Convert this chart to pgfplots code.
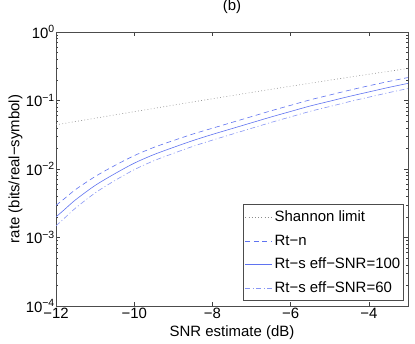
\documentclass[border=0pt]{standalone}
\usepackage{pgfplots}
\pgfplotsset{compat=1.18}
\usepackage{fontspec}
\setmainfont{Liberation Sans}

\definecolor{lineblue}{RGB}{95,115,240}
\definecolor{dotgray}{RGB}{140,140,140}

\begin{document}
\begin{tikzpicture}[font=\fontsize{15}{18}\selectfont]
% fixed page: axis box at (0,0)-(352bp,274bp), margins as in the reference
\useasboundingbox (-56bp,-38bp) rectangle (359bp,306bp);
\begin{axis}[
    at={(0,0)}, anchor=south west,
    width=352bp, height=274bp, scale only axis,
    ymode=log,
    xmin=-12, xmax=-3,
    ymin=1e-4, ymax=1,
    xtick={-12,-10,-8,-6,-4},
    xticklabels={−12,−10,−8,−6,−4},
    ytick={1e-4,1e-3,1e-2,1e-1,1},
    yticklabels={10\textsuperscript{−4},10\textsuperscript{−3},10\textsuperscript{−2},10\textsuperscript{−1},10\textsuperscript{0}},
    yticklabel style={inner xsep=1bp},
    xticklabel style={inner ysep=2bp},
    major tick length=4bp, minor tick length=2bp,
    tick style={black!75, line width=0.4bp},
    axis line style={black!70, line width=0.6bp},
    title={(b)},
    title style={at={(axis description cs:0.5,1.069)}, anchor=center, yshift=0pt},
    xlabel={SNR estimate (dB)},
    xlabel style={at={(axis description cs:0.5,-0.0985)}, anchor=center},
    ylabel={rate (bits/real−symbol)},
    ylabel style={at={(axis description cs:-0.115,0.5)}, anchor=center},
    legend cell align=left,
    legend style={at={(axis description cs:0.9886,0.018)}, anchor=south east,
        draw=black!70, line width=0.6bp, fill=white,
        inner xsep=1.5bp, inner ysep=4.5bp,
        row sep=7.5bp, font=\fontsize{15}{18}\selectfont},
    legend image code/.code={\draw[#1] (0bp,0bp) -- (27bp,0bp);},
]
% Shannon limit
\addplot[dotgray, line width=0.6bp, dash pattern=on 0.8bp off 2.4bp] coordinates {
    (-12,0.04414) (-11,0.05513) (-10,0.06875) (-9,0.08553) (-8,0.10612)
    (-7,0.13124) (-6,0.16165) (-5,0.19821) (-4,0.24174) (-3,0.29306)
};
\addlegendentry{Shannon limit}

% Rt-n
\addplot[lineblue, line width=0.6bp, dash pattern=on 5bp off 3.5bp, smooth] coordinates {
    (-12,0.00295) (-11.8,0.00363) (-11.5,0.00501) (-11,0.00776) (-10.5,0.01122)
    (-10,0.01567) (-9.5,0.02065) (-9,0.0260) (-8.5,0.0324) (-8,0.0394)
    (-7.5,0.0479) (-7,0.0582) (-6.5,0.0708) (-6,0.0851) (-5.5,0.1023)
    (-5,0.1202) (-4.5,0.1413) (-4,0.1641) (-3.5,0.1892) (-3,0.2163)
};
\addlegendentry{Rt−n}

% Rt-s eff-SNR=100
\addplot[lineblue, line width=0.6bp, smooth] coordinates {
    (-12,0.00200) (-11.8,0.00251) (-11.5,0.00355) (-11,0.00575) (-10.5,0.00851)
    (-10,0.01216) (-9.5,0.01622) (-9,0.02065) (-8.5,0.0260) (-8,0.0320)
    (-7.5,0.0389) (-7,0.0473) (-6.5,0.0575) (-6,0.0692) (-5.5,0.0832)
    (-5,0.0977) (-4.5,0.1148) (-4,0.1334) (-3.5,0.1549) (-3,0.1778)
};
\addlegendentry{Rt−s eff−SNR=100}

% Rt-s eff-SNR=60
\addplot[lineblue!75, line width=0.6bp, dash pattern=on 5bp off 2.5bp on 1bp off 2.5bp, smooth] coordinates {
    (-12,0.00148) (-11.8,0.00188) (-11.5,0.00269) (-11,0.00447) (-10.5,0.00676)
    (-10,0.00977) (-9.5,0.01318) (-9,0.0169) (-8.5,0.0214) (-8,0.0264)
    (-7.5,0.0322) (-7,0.0393) (-6.5,0.0479) (-6,0.0577) (-5.5,0.0695)
    (-5,0.0817) (-4.5,0.0962) (-4,0.1119) (-3.5,0.1300) (-3,0.1496)
};
\addlegendentry{Rt−s eff−SNR=60}
\end{axis}
\end{tikzpicture}
\end{document}
